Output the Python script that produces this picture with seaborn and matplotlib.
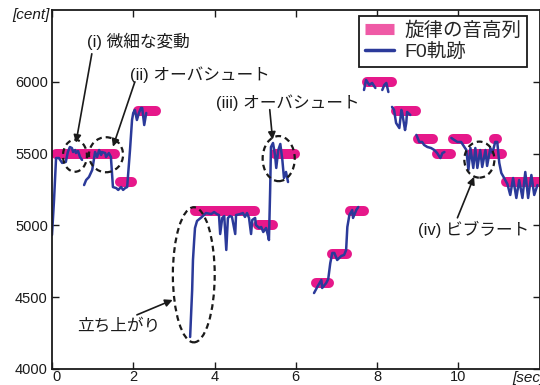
import matplotlib
matplotlib.use("Agg")
import matplotlib.pyplot as plt
from matplotlib.patches import Ellipse
from matplotlib.lines import Line2D
import numpy as np
import pandas as pd
import seaborn as sns

# Melody note sequence: start/end time [sec] and pitch [cent]
note_start = [0.10, 1.67, 2.11, 3.51, 5.06, 5.48, 6.51, 6.90, 7.34, 7.76, 8.47, 9.01, 9.48, 9.87, 10.32, 10.88, 11.18]
note_end   = [1.55, 1.97, 2.56, 4.99, 5.43, 5.97, 6.83, 7.25, 7.67, 8.38, 8.97, 9.39, 9.81, 10.22, 11.08, 10.96, 12.10]
note_cent  = [5500, 5300, 5800, 5100, 5000, 5500, 4600, 4800, 5100, 6000, 5800, 5600, 5500, 5600, 5500, 5600, 5300]

# F0 contour, one list per voiced segment
f0_time = [
    [0.00, 0.05, 0.10, 0.17, 0.25, 0.34, 0.39, 0.44, 0.49, 0.52, 0.57, 0.59, 0.64, 0.69, 0.74],
    [0.79, 0.84, 0.91, 0.99, 1.01, 1.06, 1.11, 1.16, 1.21, 1.23, 1.31, 1.33, 1.40, 1.45, 1.50,
     1.58, 1.63, 1.70, 1.75, 1.80, 1.85, 1.92, 1.97, 2.00, 2.04, 2.09, 2.14, 2.19, 2.22, 2.27, 2.32],
    [3.40, 3.42, 3.45, 3.47, 3.50, 3.52, 3.57, 3.69, 3.79, 3.92, 3.99, 4.06, 4.11, 4.14, 4.19,
     4.24, 4.29, 4.33, 4.38, 4.43, 4.51, 4.53, 4.63, 4.70, 4.75, 4.80, 4.85, 4.90, 4.93, 5.00,
     5.02, 5.10, 5.15, 5.20, 5.27, 5.32, 5.34, 5.37, 5.39, 5.44, 5.49, 5.52, 5.57, 5.62, 5.67,
     5.71, 5.76, 5.81],
    [6.45, 6.53, 6.63, 6.65, 6.75, 6.80, 6.85, 6.90, 6.95, 7.02, 7.12, 7.19, 7.24, 7.27, 7.32,
     7.39, 7.41, 7.49, 7.54],
    [7.68, 7.73, 7.81, 7.88, 7.96],
    [8.13, 8.18, 8.23, 8.28],
    [8.37, 8.42, 8.47, 8.55, 8.60, 8.62, 8.69, 8.72, 8.74, 8.82],
    [8.97, 9.04, 9.11, 9.16, 9.24, 9.33, 9.41, 9.48, 9.56, 9.61, 9.66],
    [9.83, 9.90, 9.98, 10.07, 10.15, 10.20, 10.25, 10.30, 10.37, 10.42, 10.47, 10.54, 10.59,
     10.67, 10.71, 10.79, 10.84, 10.91, 10.96, 11.01, 11.06, 11.13, 11.21, 11.28, 11.35, 11.43,
     11.50, 11.58, 11.65, 11.72, 11.80, 11.87, 11.95],
]
f0_cent = [
    [4933, 5177, 5469, 5469, 5435, 5442, 5511, 5546, 5539, 5511, 5525, 5504, 5518, 5476, 5456],
    [5281, 5316, 5337, 5386, 5421, 5511, 5476, 5525, 5490, 5511, 5504, 5476, 5504, 5476, 5267,
     5260, 5247, 5267, 5247, 5260, 5267, 5525, 5734, 5783, 5804, 5734, 5783, 5818, 5818, 5699, 5783],
    [4223, 4355, 4550, 4759, 4898, 4982, 5031, 5059, 5086, 5079, 5093, 5079, 5072, 4940, 5052,
     5065, 4829, 5052, 5065, 5059, 4940, 5072, 5079, 5086, 5059, 5086, 5052, 4940, 5038, 5052,
     5003, 4982, 4989, 4954, 4982, 4926, 4898, 5247, 5546, 5574, 5490, 5400, 5525, 5567, 5456,
     5330, 5372, 5302],
    [4529, 4571, 4620, 4564, 4599, 4627, 4738, 4808, 4808, 4759, 4787, 4794, 4829, 4989, 5072,
     5107, 5052, 5107, 5128],
    [5943, 6013, 5978, 5992, 5957],
    [5943, 5978, 5992, 5929],
    [5825, 5804, 5713, 5678, 5804, 5783, 5664, 5713, 5790, 5769],
    [5630, 5581, 5581, 5560, 5546, 5539, 5525, 5504, 5469, 5504, 5511],
    [5609, 5595, 5581, 5581, 5546, 5525, 5386, 5539, 5400, 5539, 5400, 5525, 5407,
     5525, 5414, 5539, 5504, 5581, 5581, 5435, 5365, 5330, 5288, 5212, 5330, 5191,
     5316, 5191, 5372, 5191, 5351, 5212, 5281],
]

# Highlighted phenomena: label, label position, arrow tail, arrow head, ellipse (center, w, h)
callout_text = ["(i) 微細な変動", "(ii) オーバシュート", "(iii) オーバシュート", "(iv) ビブラート", "立ち上がり"]
callout_pos = [(0.86, 6285), (1.92, 6052), (4.03, 5855), (9.00, 4975), (0.62, 4295)]
arrow_tail = [(0.98, 6195), (2.04, 6000), (5.36, 5806), (9.98, 5053), (2.09, 4377)]
arrow_head = [(0.59, 5576), (1.50, 5548), (5.43, 5597), (10.39, 5339), (2.97, 4481)]
ellipse_xy = [(0.565, 5485), (1.33, 5492), (5.58, 5465), (10.52, 5458), (3.49, 4656)]
ellipse_w = [0.59, 0.84, 0.79, 0.74, 1.03]
ellipse_h = [223, 244, 314, 251, 941]

PINK = "#e6188a"
PINK_LEGEND = "#ef5aa6"
BLUE = "#2b3a9a"

sns.set_style("ticks")
plt.rcParams["font.family"] = ["Liberation Sans", "Noto Sans CJK JP"]

notes = pd.DataFrame({
    "note": np.repeat(np.arange(len(note_cent)), 2),
    "t": np.ravel(np.column_stack([note_start, note_end])),
    "cent": np.repeat(note_cent, 2),
})
f0 = pd.DataFrame({
    "seg": np.concatenate([[i] * len(ts) for i, ts in enumerate(f0_time)]),
    "t": np.concatenate(f0_time),
    "cent": np.concatenate(f0_cent),
})

fig = plt.figure(figsize=(5.4, 3.85), dpi=100)
ax = fig.add_axes([52 / 540, 16 / 385, (539.5 - 52) / 540, 359 / 385])

sns.lineplot(data=notes, x="t", y="cent", units="note", estimator=None, sort=False,
             color=PINK, lw=7.2, solid_capstyle="round", legend=False, ax=ax)
sns.lineplot(data=f0, x="t", y="cent", units="seg", estimator=None, sort=False,
             color=BLUE, lw=1.8, legend=False, ax=ax)

for (cx, cy), w, h in zip(ellipse_xy, ellipse_w, ellipse_h):
    ax.add_patch(Ellipse((cx, cy), w, h, fill=False, ec="#1a1a1a", lw=1.6,
                         ls=(0, (2.6, 1.8)), zorder=4))

for txt, pos, tail, head in zip(callout_text, callout_pos, arrow_tail, arrow_head):
    ax.text(pos[0], pos[1], txt, fontsize=12, ha="left", va="center", color="#1a1a1a")
    ax.annotate("", xy=head, xytext=tail,
                arrowprops=dict(arrowstyle="-|>", color="#1a1a1a", lw=1.2,
                                mutation_scale=11, shrinkA=0, shrinkB=0))

ax.set_xlim(0, 12)
ax.set_ylim(4000, 6500)
ax.set_xticks([0, 2, 4, 6, 8, 10])
ax.set_yticks([4000, 4500, 5000, 5500, 6000])
ax.set_xlabel("")
ax.set_ylabel("")
ax.tick_params(direction="in", length=5, width=1.0, top=True, right=True,
               labelsize=10.5, colors="#1a1a1a", pad=3)
ax.tick_params(axis="x", pad=1)
ax.get_xticklabels()[0].set_horizontalalignment("left")
for s in ax.spines.values():
    s.set_linewidth(1.3)
    s.set_color("#1a1a1a")

handles = [Line2D([], [], color=PINK_LEGEND, lw=8, solid_capstyle="butt"),
           Line2D([], [], color=BLUE, lw=2.5)]
leg = ax.legend(handles, ["旋律の音高列", "F0軌跡"], loc="upper right",
                bbox_to_anchor=(527 / 540, 1 - 16 / 385), bbox_transform=fig.transFigure,
                fontsize=14, frameon=True, fancybox=False, edgecolor="#1a1a1a",
                framealpha=1, handlelength=1.5, handletextpad=0.5, labelspacing=0.15,
                borderpad=0.3, borderaxespad=0)
leg.get_frame().set_linewidth(1.3)

fig.text(50 / 540, 1 - 15 / 385, "[cent]", fontsize=11, style="italic",
         ha="right", va="center", color="#1a1a1a")
fig.text(512 / 540, 1 - 378 / 385, "[sec]", fontsize=11, style="italic",
         ha="left", va="center", color="#1a1a1a")

fig.savefig("out.png", dpi=100)
